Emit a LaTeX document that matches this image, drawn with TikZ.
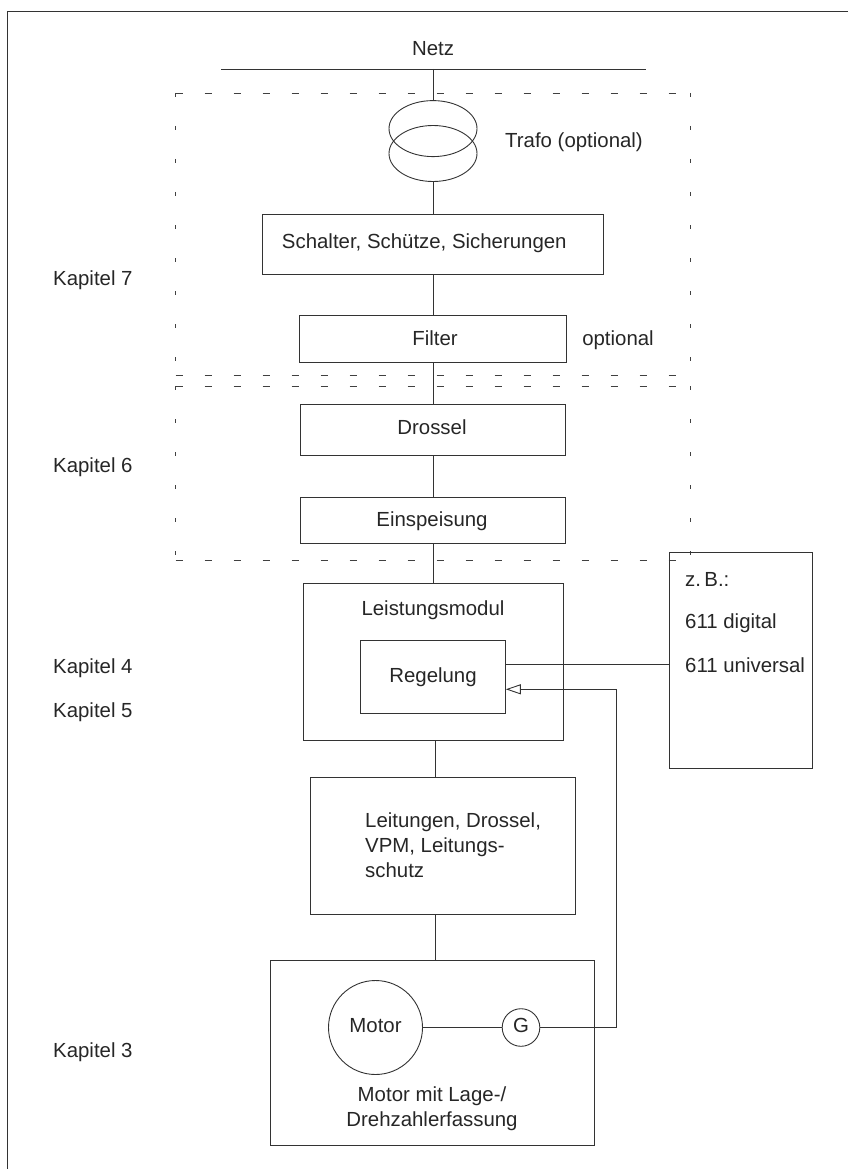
\documentclass[tikz,border=0pt]{standalone}
\usepackage{fontspec}
\setmainfont{Liberation Sans}
\usetikzlibrary{arrows.meta,calc}
\begin{document}
\begin{tikzpicture}[x=1pt,y=-1pt,
  every node/.style={font=\fontsize{20.4}{25}\selectfont, text=black!85},
  ln/.style={line width=0.9pt, draw=black!80},
  box/.style={draw=black!80, line width=0.9pt, rectangle, inner sep=0pt},
  txt/.style={inner sep=0pt, text height=14.5pt, text depth=4pt},
  hdash/.style={draw=black!75, line width=0.9pt, dash pattern=on 7pt off 22pt},
  vdash/.style={draw=black!75, line width=0.9pt, dash pattern=on 4pt off 29pt}]
\useasboundingbox (0,0) rectangle (848,1169);
% outer frame
\draw[ln] (848,11) -- (7,11) -- (7,1169);
% dashed boxes
\draw[hdash] (175.5,93) -- (690,93);
\draw[hdash] (175.5,375) -- (690,375);
\draw[vdash] (175.5,93) -- (175.5,375);
\draw[vdash] (690,93) -- (690,375);
\draw[hdash] (175.5,386) -- (690,386);
\draw[hdash] (175.5,560) -- (690,560);
\draw[vdash] (175.5,386) -- (175.5,560);
\draw[vdash] (690,386) -- (690,560);
% Netz
\node[txt] (netz) at (433,50) {Netz};
\coordinate (nl) at (221,69);
\coordinate (nr) at (645.5,69);
\coordinate (nm) at (433,69);
\draw[ln] (nl) -- (nr);
% Trafo
\draw[ln] (433,128.6) ellipse [x radius=44pt, y radius=28pt];
\draw[ln] (433,153.5) ellipse [x radius=44pt, y radius=28pt];
\coordinate (trtop) at (433,100.6);
\coordinate (trbot) at (433,181.5);
\draw[ln] (nm) -- (trtop);
\node[txt] (trafo) at (574,142) {Trafo (optional)};
% boxes
\node[box, minimum width=340.4pt, minimum height=60.4pt] (schalter) at (432.8,244.2) {};
\node[txt] (schaltertxt) at (424.3,243.4) {Schalter, Schütze, Sicherungen};
\node[box, minimum width=266.5pt, minimum height=47pt] (filter) at (432.8,339.2) {};
\node[txt] (filtertxt) at (435,340) {Filter};
\node[txt] (opt) at (618,340) {optional};
\node[box, minimum width=264.8pt, minimum height=51pt] (drossel) at (433,429.5) {};
\node[txt] (drosseltxt) at (432,429) {Drossel};
\node[box, minimum width=264.8pt, minimum height=46pt] (einsp) at (433,520) {};
\node[txt] (einsptxt) at (432,521) {Einspeisung};
\node[box, minimum width=260pt, minimum height=157pt] (lm) at (433,661.5) {};
\node[txt] (lmtxt) at (433,610) {Leistungsmodul};
\node[box, minimum width=144.7pt, minimum height=72.6pt] (reg) at (433,676.7) {};
\node[txt] (regtxt) at (433,676.8) {Regelung};
\node[box, minimum width=143pt, minimum height=215.3pt] (zb) at (740.5,660.4) {};
\node[txt, anchor=west] (zb1) at (685,581.4) {z.\,B.:};
\node[txt, anchor=west] (zb2) at (685,623.6) {611 digital};
\node[txt, anchor=west] (zb3) at (685,667) {611 universal};
\node[box, minimum width=264.7pt, minimum height=136.3pt] (leit) at (442.7,845.9) {};
\node[inner sep=0pt, anchor=west, align=left] (leittxt) at (365,845) {Leitungen, Drossel,\\VPM, Leitungs-\\schutz};
\node[box, minimum width=324.3pt, minimum height=185pt] (mbox) at (432.2,1052.5) {};
\node[box, circle, minimum size=94pt] (motor) at (375.5,1027.5) {};
\node[txt] (motortxt) at (375.5,1027.5) {Motor};
\node[box, circle, minimum size=37.6pt] (g) at (521,1027.5) {};
\node[txt] (gtxt) at (521,1027.5) {G};
\node[inner sep=0pt, align=center] (mcap) at (432,1108.5) {Motor mit Lage-/\\Drehzahlerfassung};
% Kapitel labels
\node[txt, anchor=west] (k7) at (53,280) {Kapitel 7};
\node[txt, anchor=west] (k6) at (53,467) {Kapitel 6};
\node[txt, anchor=west] (k4) at (53,668) {Kapitel 4};
\node[txt, anchor=west] (k5) at (53,712) {Kapitel 5};
\node[txt, anchor=west] (k3) at (53,1052) {Kapitel 3};
% chain connectors
\draw[ln] (trbot) -- (schalter.north -| trbot);
\draw[ln] (schalter.south -| trbot) -- (filter.north -| trbot);
\draw[ln] (filter.south -| trbot) -- (drossel.north -| trbot);
\draw[ln] (drossel.south -| trbot) -- (einsp.north -| trbot);
\draw[ln] (einsp.south -| trbot) -- (lm.north -| trbot);
\coordinate (cx) at (435,0);
\draw[ln] (lm.south -| cx) -- (leit.north -| cx);
\draw[ln] (leit.south -| cx) -- (mbox.north -| cx);
% Regelung links
\coordinate (yl) at (0,664.3);
\draw[ln] (reg.east |- yl) -- (zb.west |- yl);
\draw[ln] (motor.east) -- (g.west);
\coordinate (fb1) at (616.7,1027.5);
\coordinate (fb2) at (616.7,689.3);
\draw[ln, -{Triangle[open, length=15pt, width=10pt]}] (g.east) -- (fb1) -- (fb2) -- (reg.east |- fb2);
\end{tikzpicture}
\end{document}
